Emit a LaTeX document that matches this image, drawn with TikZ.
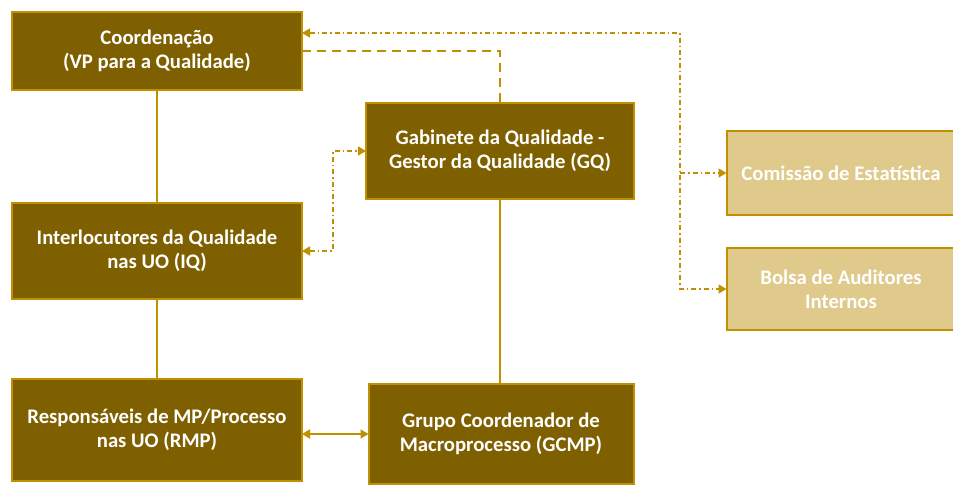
\documentclass[tikz,border=0pt]{standalone}
\usepackage{fontspec}
\setmainfont{Carlito}
\usetikzlibrary{arrows.meta}

\definecolor{darkgold}{HTML}{7F6000}
\definecolor{linegold}{HTML}{BF9000}
\definecolor{lightgold}{HTML}{DFCA8B}

\tikzset{
  unit/.style={draw=linegold, line width=2bp, fill=darkgold, text=white,
    font=\bfseries\fontsize{20.8}{24}\selectfont, align=center,
    inner sep=0pt, outer sep=0pt},
  extunit/.style={unit, fill=lightgold},
  solidline/.style={draw=linegold, line width=1.8bp},
  dashline/.style={draw=linegold, line width=2bp, dash pattern=on 9bp off 6bp},
  dotline/.style={draw=linegold, line width=1.5bp,
    dash pattern=on 5bp off 3bp on 1.5bp off 3bp},
  tip/.tip={Triangle[length=8bp,width=9bp]}
}

\begin{document}
\begin{tikzpicture}[x=1bp, y=-1bp]
\useasboundingbox (0,0) rectangle (953,487);

% main units
\node[unit, minimum width=290bp, minimum height=78bp] (coord) at (157,51)
  {Coordenação\\(VP para a Qualidade)};
\node[unit, minimum width=268bp, minimum height=96bp] (gabinete) at (500,151)
  {Gabinete da Qualidade -\\Gestor da Qualidade (GQ)};
\node[unit, minimum width=290bp, minimum height=96bp] (inter) at (157,251)
  {Interlocutores da Qualidade\\nas UO (IQ)};
\node[unit, minimum width=290bp, minimum height=102bp] (resp) at (157,430)
  {Responsáveis de MP/Processo\\nas UO (RMP)};
\node[unit, minimum width=265bp, minimum height=99bp] (grupo) at (501,434)
  {Grupo Coordenador de\\Macroprocesso (GCMP)};

% external units
\node[extunit, minimum width=229bp, minimum height=84bp] (comissao) at (841,173)
  {Comissão de Estatística};
\node[extunit, minimum width=229bp, minimum height=82bp] (bolsa) at (841,289)
  {Bolsa de Auditores\\Internos};

\coordinate (spine) at (680,33);
\coordinate (link) at (333,151);

% hierarchy
\draw[solidline] (coord) -- (inter);
\draw[solidline] (inter) -- (resp);
\draw[solidline] (gabinete) -- (gabinete |- grupo.north);
\draw[solidline, tip-tip] (resp.east |- grupo) -- (grupo.west);

% coordination links
\draw[dashline] (coord.east) -| (gabinete.north);
\draw[dotline, tip-tip] (coord.east |- spine) -- (spine) |- (bolsa.west);
\draw[dotline, -tip] (spine |- comissao) -- (comissao.west);
\draw[dotline, tip-tip] (inter.east) -| (link) -- (gabinete.west);

\end{tikzpicture}
\end{document}
